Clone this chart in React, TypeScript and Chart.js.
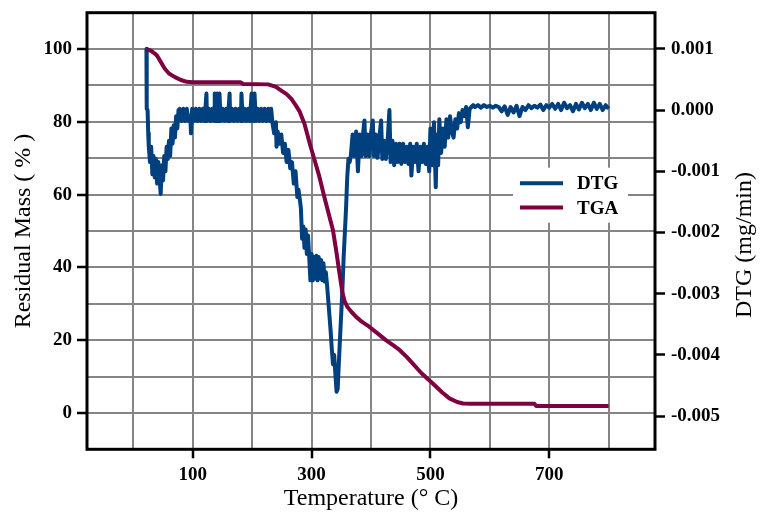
import { useEffect, useRef } from "react";
import { Chart, registerables } from "chart.js";

Chart.register(...registerables);

const FONT = '"Liberation Serif", "Times New Roman", serif';
const DTG_COLOR = "#00407f";
const TGA_COLOR = "#7f0040";
const GRID_COLOR = "#858585";

// ---- Data ----
const tgaTemp = [
  22, 26, 30, 35, 40, 46, 53, 60, 70, 80,
  90, 100, 150, 180, 185, 227, 240, 249, 258, 266,
  274, 280, 288, 297, 305, 313, 322, 330, 336, 342,
  347, 352, 356, 360, 368, 375, 385, 397, 410, 425,
  437, 448, 460, 470, 485, 504, 520, 532, 545, 555,
  570, 675, 678, 800,
];
const tgaMass = [
  100, 99.8, 99.5, 98.9, 98.2, 96.5, 94.6, 93.3, 92.3, 91.5,
  91.0, 90.9, 90.9, 90.9, 90.4, 90.3, 89.6, 88.6, 87.6, 86.3,
  84.4, 82.8, 79.5, 74.0, 69.5, 65.0, 59.0, 54.0, 50.2, 44.0,
  38.3, 33.0, 30.5, 29.2, 27.6, 26.4, 25.0, 23.7, 22.0, 20.0,
  18.6, 17.3, 15.4, 13.6, 10.9, 8.1, 5.6, 4.0, 3.0, 2.6,
  2.5, 2.5, 1.9, 1.9,
];

const dtgTemp = [
  22, 22.5, 24, 25, 26, 28, 30, 32, 34, 36,
  38, 40, 42, 44, 46, 48, 50, 52, 54, 56,
  58, 60, 62, 64, 66, 68, 70, 72, 74, 76,
  78, 81, 84, 87, 90, 93, 96, 97, 99, 102,
  105, 108, 111, 114, 117, 120, 123, 124, 127, 130,
  133, 136, 137, 139, 141, 143, 145, 147, 150, 153,
  156, 159, 162, 163, 166, 169, 172, 175, 178, 181,
  182, 184, 187, 190, 193, 196, 199, 201, 204, 206,
  209, 212, 215, 218, 221, 224, 227, 230, 232, 234,
  237, 240, 241, 243, 246, 249, 252, 255, 258, 261,
  264, 267, 270, 273, 276, 278, 280, 282, 284, 286,
  288, 290, 292, 294, 296, 298, 300, 302, 304, 306,
  308, 310, 312, 314, 316, 318, 320, 322, 324, 326,
  328, 330, 332, 334, 336, 338, 340, 342, 344, 346,
  348, 350, 352, 354, 356, 358, 360, 362, 364, 366,
  369, 372, 375, 378, 381, 384, 387, 389, 391, 394,
  397, 400, 403, 405, 408, 411, 414, 417, 419, 422,
  425, 428, 431, 433, 436, 439, 442, 445, 448, 451,
  454, 457, 460, 463, 466, 468, 471, 474, 477, 480,
  483, 486, 489, 492, 495, 498, 500, 503, 506, 509,
  511, 513, 515, 518, 521, 524, 527, 530, 533, 536,
  539, 542, 545, 548, 551, 554, 557, 560, 563, 566,
  569, 572, 575, 580, 585, 590, 595, 600, 605, 610,
  615, 620, 625, 630, 635, 640, 645, 650, 655, 660,
  665, 670, 675, 680, 685, 690, 695, 700, 705, 710,
  715, 720, 725, 730, 735, 740, 745, 750, 755, 760,
  765, 770, 775, 780, 785, 790, 795, 800,
];
const dtgRate = [
  0.001, 0.00002, 0.0, -0.00038, -0.0006, -0.00085, -0.0006, -0.00105, -0.00075, -0.0011,
  -0.0008, -0.0012, -0.00085, -0.0011, -0.00137, -0.0009, -0.00115, -0.00075, -0.001, -0.0006,
  -0.0008, -0.0005, -0.00075, -0.0003, -0.00055, -0.00025, -0.00045, -0.0001, -0.0003, 0.0,
  0.00002, -0.00018, 0.00002, -0.00018, 0.00002, -0.00018, -0.0001, -0.00038, 0.00002, -0.00018,
  0.00002, -0.00018, 0.00002, -0.00018, 0.00002, -0.00018, 0.00027, -0.00018, 0.00002, -0.00018,
  0.00002, -0.00018, 0.00027, -0.00018, 0.00027, -0.00018, 0.00027, -0.00018, 0.00002, -0.00018,
  0.00002, -0.00018, 0.00027, -0.00018, 0.00002, -0.00018, 0.00002, -0.00018, 0.00002, -0.00018,
  0.00027, -0.00018, 0.00002, -0.00018, 0.00002, -0.00018, 0.00027, -0.00018, 0.00027, -0.00018,
  0.00002, -0.00018, 0.00002, -0.00018, 0.00002, -0.00018, 0.00002, -0.00018, 0.00002, -0.0002,
  -0.00038, -0.0002, -0.0006, -0.00035, -0.00055, -0.0004, -0.0007, -0.00055, -0.00085, -0.00065,
  -0.00095, -0.00085, -0.0012, -0.001, -0.00142, -0.0013, -0.00145, -0.0016, -0.0021, -0.0019,
  -0.00225, -0.00195, -0.00235, -0.00205, -0.0024, -0.00278, -0.00235, -0.00278, -0.0024, -0.00275,
  -0.00238, -0.00278, -0.0024, -0.00275, -0.00245, -0.00278, -0.0025, -0.0028, -0.00265, -0.00285,
  -0.0031, -0.00335, -0.0036, -0.0039, -0.00415, -0.004, -0.0043, -0.0046, -0.00455, -0.0041,
  -0.0037, -0.0033, -0.0029, -0.0024, -0.002, -0.0016, -0.0011, -0.0008, -0.00085, -0.00075,
  -0.0004, -0.00075, -0.00035, -0.001, -0.0004, -0.00075, -0.00035, -0.00017, -0.00075, -0.0004,
  -0.00075, -0.00038, -0.00017, -0.00075, -0.0004, -0.00078, -0.00045, -0.00017, -0.0008, -0.0005,
  -0.0008, -0.0005, 0.0, -0.00085, -0.0005, -0.0009, -0.00055, -0.00085, -0.00055, -0.00088,
  -0.00055, -0.00085, -0.0006, -0.00088, -0.00055, -0.00107, -0.0006, -0.00085, -0.00055, -0.001,
  -0.0006, -0.00085, -0.00055, -0.00088, -0.0006, -0.001, -0.0003, -0.0009, -0.0002, -0.00126,
  -0.0004, -0.0009, -0.00015, -0.0007, -0.0003, -0.0006, -0.00015, -0.00045, -0.0001, -0.00035,
  -0.00045, -0.00015, -0.0003, -0.00005, -0.0002, 0.0, -0.0001, 0.00005, -0.00028, 0.00002,
  0.00005, 0.00008, 0.00005, 0.00008, 0.00004, 0.00008, 0.00005, 0.00007, 0.00004, 0.00007,
  0.00005, -0.00002, 0.00006, -0.00008, 0.00005, -0.00004, 0.00007, -0.0001, 0.00005, 0.0,
  0.00008, 0.00003, 0.00007, 0.00004, 0.00009, 0.0, 0.00008, 0.00004, 0.0001, 0.00002,
  0.0001, 0.0, 0.00012, 0.00003, 0.00008, -0.00002, 0.0001, 0.00001, 0.00012, 0.00003,
  0.0001, 0.0, 0.00012, 0.00002, 0.0001, 0.0, 0.00008, 0.00002,
];

// ---- Axis ticks ----
const xGridValues = [0, 100, 200, 300, 400, 500, 600, 700, 800];
const xLabelValues = [100, 300, 500, 700];
const massGridValues = [0, 10, 20, 30, 40, 50, 60, 70, 80, 90, 100];
const massLabelValues = [0, 20, 40, 60, 80, 100];
const rateTickValues = [-0.005, -0.004, -0.003, -0.002, -0.001, 0, 0.001];

const X_MIN = -78;
const X_MAX = 878;
const MASS_MIN = -10;
const MASS_MAX = 110;
const RATE_MIN = -0.00554;
const RATE_MAX = 0.00159;

const legendItems = [
  { label: "DTG", color: DTG_COLOR },
  { label: "TGA", color: TGA_COLOR },
];

const zeroPadding = (s: any) => {
  s.paddingTop = 0;
  s.paddingBottom = 0;
  s.paddingLeft = 0;
  s.paddingRight = 0;
};

const overlayPlugin = {
  id: "overlay",
  afterDatasetsDraw(chart: any) {
    const { ctx, chartArea } = chart;
    const { left, top, right, bottom } = chartArea;
    ctx.save();
    // legend
    const bx = left + 426;
    const by = top + 155;
    ctx.fillStyle = "#ffffff";
    ctx.fillRect(bx, by, 115, 55);
    legendItems.forEach((it, i) => {
      const y = by + 15.5 + i * 24.4;
      ctx.strokeStyle = it.color;
      ctx.lineWidth = 4;
      ctx.lineCap = "butt";
      ctx.beginPath();
      ctx.moveTo(bx + 7, y);
      ctx.lineTo(bx + 50, y);
      ctx.stroke();
      ctx.fillStyle = "#000";
      ctx.font = `bold 19px ${FONT}`;
      ctx.textAlign = "left";
      ctx.textBaseline = "middle";
      ctx.fillText(it.label, bx + 64, y + 1);
    });
    // frame
    ctx.strokeStyle = "#000";
    ctx.lineWidth = 3;
    ctx.strokeRect(left, top, right - left, bottom - top);
    // right axis title (reads bottom to top)
    ctx.translate(745, (top + bottom) / 2 + 14);
    ctx.rotate(-Math.PI / 2);
    ctx.font = `24px ${FONT}`;
    ctx.fillStyle = "#000";
    ctx.textAlign = "center";
    ctx.textBaseline = "middle";
    ctx.fillText("DTG (mg/min)", 0, 0);
    ctx.restore();
  },
};

export default function App() {
  const ref = useRef<HTMLCanvasElement>(null);

  useEffect(() => {
    const tickFont = { family: FONT, size: 19, weight: "bold" as const };
    const chart = new Chart(ref.current!, {
      type: "line",
      data: {
        datasets: [
          {
            label: "DTG",
            data: dtgTemp.map((t, i) => ({ x: t, y: dtgRate[i] })),
            yAxisID: "y1",
            borderColor: DTG_COLOR,
            backgroundColor: DTG_COLOR,
            borderWidth: 4,
            pointRadius: 0,
            tension: 0,
            fill: false,
            order: 2,
            borderJoinStyle: "round",
          },
          {
            label: "TGA",
            data: tgaTemp.map((t, i) => ({ x: t, y: tgaMass[i] })),
            yAxisID: "y",
            borderColor: TGA_COLOR,
            backgroundColor: TGA_COLOR,
            borderWidth: 4,
            pointRadius: 0,
            tension: 0,
            fill: false,
            order: 1,
            borderJoinStyle: "round",
          },
        ],
      },
      options: {
        animation: false,
        responsive: true,
        maintainAspectRatio: false,
        devicePixelRatio: 1,
        layout: { padding: { top: 12.7, left: 0, right: 0, bottom: 0 } },
        plugins: { legend: { display: false }, tooltip: { enabled: false } },
        scales: {
          x: {
            type: "linear",
            min: X_MIN,
            max: X_MAX,
            afterBuildTicks: (s: any) => {
              s.ticks = xGridValues.map((v) => ({ value: v }));
            },
            afterFit: (s: any) => {
              s.height = 66.7;
              zeroPadding(s);
            },
            grid: {
              color: GRID_COLOR,
              lineWidth: 2,
              tickLength: 9,
              tickWidth: 2.5,
              tickColor: (c: any) =>
                c.tick && xLabelValues.includes(c.tick.value) ? "#000" : "rgba(0,0,0,0)",
            },
            border: { display: false },
            ticks: {
              autoSkip: false,
              maxRotation: 0,
              padding: 5,
              color: "#000",
              font: tickFont,
              callback: (v: any) => (xLabelValues.includes(v) ? String(v) : ""),
            },
            title: {
              display: true,
              text: "Temperature (° C)",
              color: "#000",
              font: { family: FONT, size: 24 },
              padding: { top: 0, bottom: 3 },
            },
          },
          y: {
            type: "linear",
            position: "left",
            min: MASS_MIN,
            max: MASS_MAX,
            afterBuildTicks: (s: any) => {
              s.ticks = massGridValues.map((v) => ({ value: v }));
            },
            afterFit: (s: any) => {
              s.width = 87;
              zeroPadding(s);
            },
            grid: {
              color: GRID_COLOR,
              lineWidth: 2,
              tickLength: 10,
              tickWidth: 2.5,
              tickColor: (c: any) =>
                c.tick && massLabelValues.includes(c.tick.value) ? "#000" : "rgba(0,0,0,0)",
            },
            border: { display: false },
            ticks: {
              autoSkip: false,
              padding: 5,
              color: "#000",
              font: tickFont,
              callback: (v: any) => (massLabelValues.includes(v) ? String(v) : ""),
            },
            title: {
              display: true,
              text: "Residual Mass ( % )",
              color: "#000",
              font: { family: FONT, size: 24 },
              padding: { top: 9, bottom: 0 },
            },
          },
          y1: {
            type: "linear",
            position: "right",
            min: RATE_MIN,
            max: RATE_MAX,
            afterBuildTicks: (s: any) => {
              s.ticks = rateTickValues.map((v) => ({ value: v }));
            },
            afterFit: (s: any) => {
              s.width = 106;
              zeroPadding(s);
            },
            grid: {
              drawOnChartArea: false,
              color: "#000",
              tickLength: 10,
              tickWidth: 2.5,
              tickColor: "#000",
            },
            border: { display: false },
            ticks: {
              autoSkip: false,
              padding: 6,
              color: "#000",
              font: tickFont,
              callback: (v: any) => Number(v).toFixed(3),
            },
          },
        },
      },
      plugins: [overlayPlugin],
    } as any);
    return () => chart.destroy();
  }, []);

  return (
    <div
      style={{
        position: "fixed",
        left: 0,
        top: 0,
        width: 761,
        height: 516,
        background: "#fff",
      }}
    >
      <canvas ref={ref} />
    </div>
  );
}
